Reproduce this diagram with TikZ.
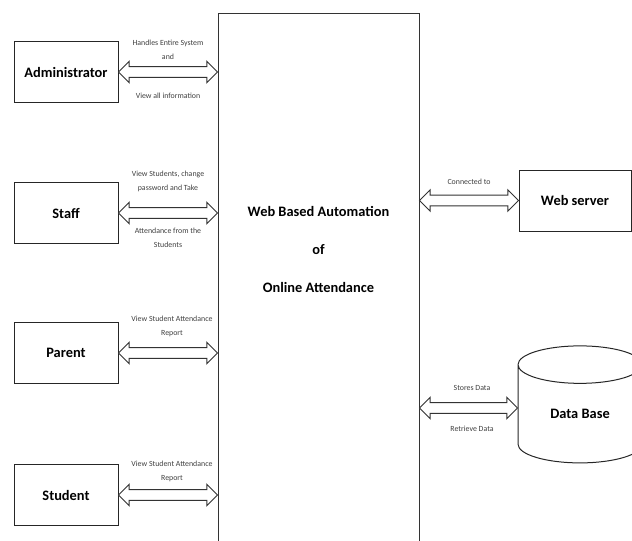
\documentclass[tikz,border=0pt]{standalone}
\usepackage{fontspec}
\setmainfont{Carlito}
\usetikzlibrary{calc,shapes.geometric}

\tikzset{every picture/.style={line width=0.75pt}}
\tikzset{
  box/.style={draw=black!85, minimum width=78pt, minimum height=45.75pt, inner sep=0pt, font=\fontsize{10.8}{13}\selectfont\bfseries},
  lbl/.style={text=black!75, font=\fontsize{5.9}{10.5}\selectfont, align=center, inner sep=0pt},
  dblarrow/.style={draw=black!80, fill=white, to path={
    -- ($(\tikztostart)+(8pt,8pt)$) -- ($(\tikztostart)+(8pt,4pt)$)
    -- ($(\tikztotarget)+(-8pt,4pt)$) -- ($(\tikztotarget)+(-8pt,8pt)$)
    -- (\tikztotarget)
    -- ($(\tikztotarget)+(-8pt,-8pt)$) -- ($(\tikztotarget)+(-8pt,-4pt)$)
    -- ($(\tikztostart)+(8pt,-4pt)$) -- ($(\tikztostart)+(8pt,-8pt)$) -- cycle}},
}

\begin{document}
\begin{tikzpicture}[x=0.75pt,y=-0.75pt]
	\useasboundingbox (0,0) rectangle (632,540);
	\clip (0,0) rectangle (632,540);

	%Shape: Rectangle [core]
	\node [draw=black!80, minimum width=150.75pt, minimum height=425.25pt] (core) at (318.5,296.5) {};
	% Text Node
	\node [font=\fontsize{10.8}{13}\selectfont\bfseries, align=center] (ttl) at (318.5,249) {Web Based Automation\\[15.5pt]of\\[15.5pt]Online Attendance};

	%Shape: Rectangle [users]
	\node [box] (adm) at (66,72) {Administrator};
	\node [box] (staff) at (66,213) {Staff};
	\node [box] (parent) at (66,353) {Parent};
	\node [box] (student) at (66,495) {Student};

	%Shape: Rectangle [web server]
	\node [box, minimum width=84pt] (web) at (575,200.5) {Web server};
	%Shape: Can [data base]
	\node [cylinder, draw=black!85, shape border rotate=90, aspect=0.63, minimum width=93pt, minimum height=87.75pt, inner sep=0pt, font=\fontsize{10.8}{13}\selectfont\bfseries] (db) at (580,414) {Data Base};

	%Double Arrows
	\draw [dblarrow] (adm.east) to (core.west |- adm.east);
	\draw [dblarrow] (staff.east) to (core.west |- staff.east);
	\draw [dblarrow] (parent.east) to (core.west |- parent.east);
	\draw [dblarrow] (student.east) to (core.west |- student.east);
	\draw [dblarrow] (core.east |- web.west) to (web.west);
	\draw [dblarrow] ([yshift=4.5pt]core.east |- db.west) to ([yshift=4.5pt]db.west);

	% Text Node
	\node [lbl] (admtop) at (168,50) {Handles Entire System\\and};
	% Text Node
	\node [lbl] (admbot) at (168,96) {View all information};
	% Text Node
	\node [lbl] (stafftop) at (168,181) {View Students, change\\password and Take};
	% Text Node
	\node [lbl] (staffbot) at (168,237.5) {Attendance from the\\Students};
	% Text Node
	\node [lbl] (parenttop) at (172,326) {View Student Attendance\\Report};
	% Text Node
	\node [lbl] (studenttop) at (172,471.5) {View Student Attendance\\Report};
	% Text Node
	\node [lbl] (webtop) at (469,182) {Connected to};
	% Text Node
	\node [lbl] (dbtop) at (472,388) {Stores Data};
	% Text Node
	\node [lbl] (dbbot) at (472,429) {Retrieve Data};
\end{tikzpicture}
\end{document}
